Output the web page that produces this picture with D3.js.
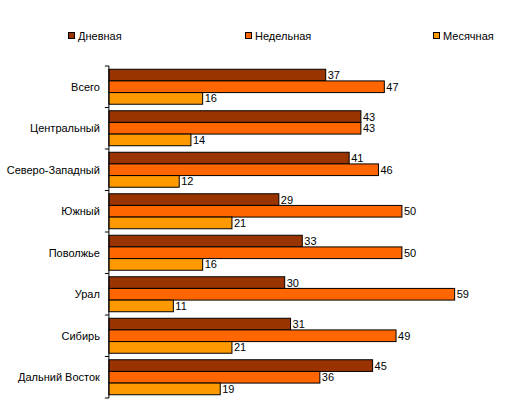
<!DOCTYPE html>
<html><head><meta charset="utf-8">
<script src="https://cdn.jsdelivr.net/npm/d3@7"></script>
<style>body{margin:0;background:#fff}svg{display:block}</style>
</head><body>
<svg id="c" width="516" height="412"></svg>
<script>
const categories = ["Всего","Центральный","Северо-Западный","Южный","Поволжье","Урал","Сибирь","Дальний Восток"];
const seriesNames = ["Дневная","Недельная","Месячная"];
const daily   = [37,43,41,29,33,30,31,45];
const weekly  = [47,43,46,50,50,59,49,36];
const monthly = [16,14,12,21,16,11,21,19];
const colors = ["#993300","#FF6600","#FF9900"];
const series = [daily, weekly, monthly];

(function(){
const svg = d3.select("#c");
const font = "Liberation Sans, Arial, sans-serif";
const x0 = 108.9, yTop = 66, yBottom = 398;
const x = d3.scaleLinear().domain([0, 10]).range([x0, x0 + 58.6]);
const y = d3.scaleBand().domain(categories).range([yTop, yBottom]).paddingInner(0.157).paddingOuter(0.0785);
const ys = d3.scaleBand().domain(d3.range(3)).range([0, y.bandwidth()]);

series.forEach((vals, s) => {
  const g = svg.append("g");
  g.selectAll("rect").data(vals).join("rect")
    .attr("x", x(0))
    .attr("y", (d, i) => y(categories[i]) + ys(s))
    .attr("width", d => x(d) - x(0))
    .attr("height", ys.bandwidth())
    .attr("fill", colors[s])
    .attr("stroke", "#000").attr("stroke-width", 1);
  g.selectAll("text").data(vals).join("text")
    .attr("x", d => x(d) + 2)
    .attr("y", (d, i) => y(categories[i]) + ys(s) + ys.bandwidth() / 2 + 4)
    .attr("font-family", font).attr("font-size", 11).attr("fill", "#000")
    .text(d => d);
});

const yAxisScale = d3.scaleBand().domain(categories).range([yTop, yBottom]);
const axis = svg.append("g").attr("transform", `translate(${x0},0)`);
axis.append("line").attr("x1", 0).attr("x2", 0).attr("y1", yTop).attr("y2", yBottom).attr("stroke", "#000");
const tickYs = categories.map(c => yAxisScale(c)).concat([yBottom]);
axis.selectAll("line.t").data(tickYs).join("line").attr("class","t")
  .attr("x1", -4).attr("x2", 0).attr("y1", d => d).attr("y2", d => d).attr("stroke", "#000");
axis.selectAll("text").data(categories).join("text")
  .attr("x", -9)
  .attr("y", d => yAxisScale(d) + yAxisScale.bandwidth() / 2 + 4)
  .attr("text-anchor", "end")
  .attr("font-family", font).attr("font-size", 11).attr("fill", "#000")
  .text(d => d);

const legX = [68, 245, 433];
const lg = svg.append("g");
seriesNames.forEach((n, i) => {
  lg.append("rect").attr("x", legX[i] + 0.5).attr("y", 32.5).attr("width", 6).attr("height", 6)
    .attr("fill", colors[i]).attr("stroke", "#000");
  lg.append("text").attr("x", legX[i] + 10).attr("y", 39.5)
    .attr("font-family", font).attr("font-size", 11).attr("fill", "#000").text(n);
});
})();
</script>
</body></html>
